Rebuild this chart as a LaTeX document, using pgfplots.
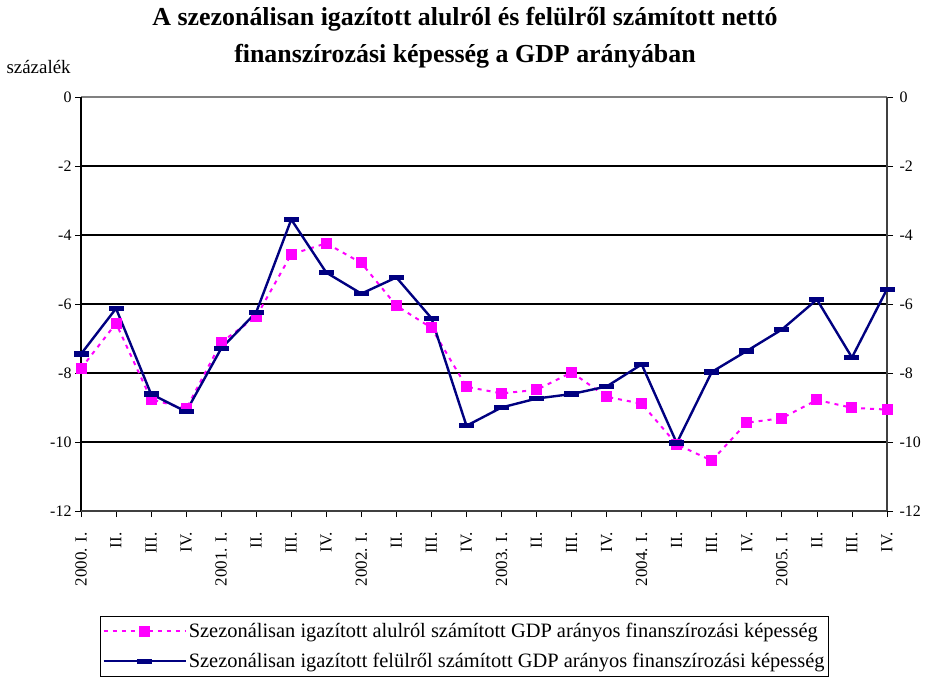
\documentclass[border=0pt]{standalone}
\usepackage{fontspec}
\setmainfont{Liberation Serif}
\usepackage{pgfplots}
\pgfplotsset{compat=1.18}
\definecolor{navy}{RGB}{0,0,128}
\definecolor{pinkm}{RGB}{255,0,255}
\begin{document}
\begin{tikzpicture}
\useasboundingbox (0bp,0bp) rectangle (929bp,-680bp);
\node[font=\fontsize{26}{37}\selectfont\bfseries, align=center] at (465bp,-38bp) {A szezonálisan igazított alulról és felülről számított nettó\\finanszírozási képesség a GDP arányában};
\node[font=\fontsize{19}{21}\selectfont, anchor=west] at (3bp,-67bp) {százalék};
\begin{axis}[
 name=main,
 scale only axis, width=806bp, height=414bp,
 anchor=north west, at={(81bp,-97bp)},
 xmin=0, xmax=23, ymin=-12, ymax=0,
 axis line style={draw=none},
 tick align=outside,
 major tick length=6bp,
 tick style={black, line width=0.8bp},
 xtick={0,...,23},
 xticklabels={2000. I.,II.,III.,IV.,2001. I.,II.,III.,IV.,2002. I.,II.,III.,IV.,2003. I.,II.,III.,IV.,2004. I.,II.,III.,IV.,2005. I.,II.,III.,IV.},
 xticklabel style={rotate=90, anchor=east, font=\fontsize{17}{19}\selectfont},
 xticklabel shift=12bp,
 xtick pos=bottom,
 ytick={-12,-10,...,0},
 ytick pos=both,
 yticklabel pos=left,
 yticklabel style={font=\fontsize{16}{18}\selectfont},
 /pgf/number format/assume math mode=true,
 ymajorgrids,
 grid style={black, line width=1.8bp},
 legend style={at={(0.0236,-0.2536)}, anchor=north west, draw=black, line width=0.8bp,
   font=\fontsize{20.5}{22}\selectfont, row sep=10bp, inner xsep=2bp, inner ysep=5bp},
 legend cell align=left,
 legend image code/.code={\draw[#1, mark repeat=2, mark phase=2] plot coordinates {(0bp,0bp) (41bp,0bp) (82bp,0bp)};},
 clip=false,
]
\addplot[pinkm, line width=2bp, dash pattern=on 4bp off 5bp, mark=square*, mark size=5bp, mark options={solid, fill=pinkm, draw=pinkm, line width=0pt}]
 coordinates {(0,-7.87) (1,-6.56) (2,-8.76) (3,-9.04) (4,-7.11) (5,-6.37) (6,-4.56) (7,-4.24) (8,-4.81) (9,-6.05) (10,-6.69) (11,-8.40) (12,-8.59) (13,-8.49) (14,-7.98) (15,-8.69) (16,-8.89) (17,-10.07) (18,-10.54) (19,-9.44) (20,-9.31) (21,-8.78) (22,-9.01) (23,-9.06)};
\addlegendentry{Szezonálisan igazított alulról számított GDP arányos finanszírozási képesség}
\addplot[navy, line width=2.4bp, mark=square*, mark size=7bp, mark options={yscale=0.3, fill=navy, draw=navy, line width=0pt}]
 coordinates {(0,-7.45) (1,-6.13) (2,-8.61) (3,-9.12) (4,-7.29) (5,-6.24) (6,-3.55) (7,-5.09) (8,-5.70) (9,-5.23) (10,-6.41) (11,-9.53) (12,-9.00) (13,-8.74) (14,-8.61) (15,-8.39) (16,-7.75) (17,-10.03) (18,-7.97) (19,-7.36) (20,-6.74) (21,-5.87) (22,-7.55) (23,-5.57)};
\addlegendentry{Szezonálisan igazított felülről számított GDP arányos finanszírozási képesség}
\draw[gray, line width=1.8bp] (axis cs:0,0) -- (axis cs:23,0);
\draw[black, line width=1.8bp] (axis cs:0,-12) -- (axis cs:0,0);
\draw[black!75, line width=1.5bp] (axis cs:23,-12) -- (axis cs:23,0);
\draw[black!75, line width=1.8bp] (axis cs:0,-12) -- (axis cs:23,-12);
\end{axis}
\begin{axis}[
 scale only axis, width=806bp, height=414bp,
 anchor=north west, at={(81bp,-97bp)},
 xmin=0, xmax=23, ymin=-12, ymax=0,
 hide x axis,
 axis line style={draw=none},
 ytick={-12,-10,...,0},
 ytick pos=right, yticklabel pos=right,
 major tick length=0bp,
 yticklabel style={font=\fontsize{16}{18}\selectfont, xshift=9bp},
 /pgf/number format/assume math mode=true,
]
\addplot[draw=none] coordinates {(0,-12) (23,0)};
\end{axis}
\end{tikzpicture}
\end{document}
